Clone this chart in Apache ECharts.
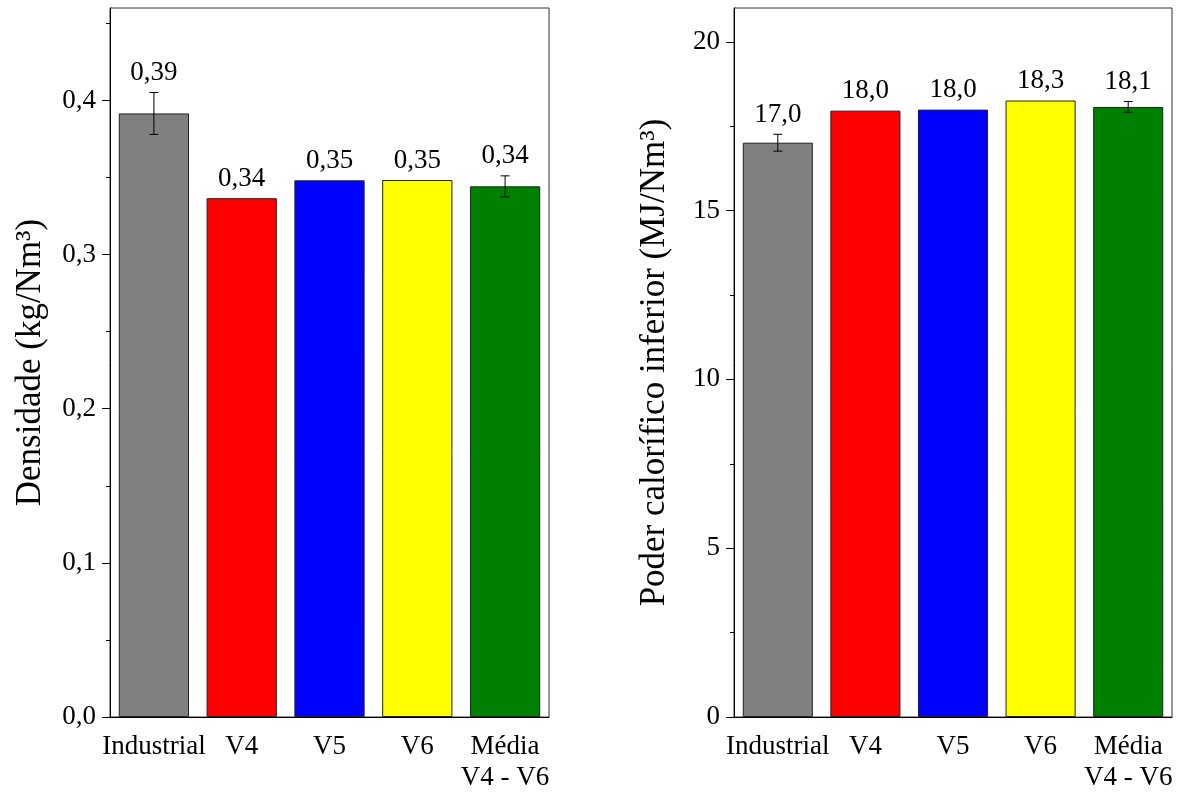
<!DOCTYPE html>
<html>
<head>
<meta charset="utf-8">
<script src="https://cdn.jsdelivr.net/npm/echarts@6/dist/echarts.min.js"></script>
<style>
  html, body { margin: 0; padding: 0; background: #fff; }
  #chart { width: 1182px; height: 793px; }
</style>
</head>
<body>
<div id="chart"></div>
<script>
// Categories shared by both panels
const categories = ['Industrial', 'V4', 'V5', 'V6', 'Média\nV4 - V6'];
const barColors = ['#808080', '#ff0000', '#0000ff', '#ffff00', '#008000'];

// Density (kg/Nm³) with standard deviation
const densityValues = [0.3916, 0.3366, 0.3482, 0.3484, 0.3443];
const densityErrors = [0.0136, 0, 0, 0, 0.0068];
const densityMajorTicks = [0, 0.1, 0.2, 0.3, 0.4];
const densityMinorTicks = [0.05, 0.15, 0.25, 0.35, 0.45];

// Lower heating value (MJ/Nm³) with standard deviation
const lhvValues = [17.01, 17.96, 17.99, 18.26, 18.07];
const lhvErrors = [0.25, 0, 0, 0, 0.16];
const lhvMajorTicks = [0, 5, 10, 15, 20];
const lhvMinorTicks = [2.5, 7.5, 12.5, 17.5];

const FONT = 'Liberation Serif';

function fmtComma(v, digits) {
  return v.toFixed(digits).replace('.', ',');
}

function errorBarSeries(xIdx, yIdx, values, errors, digits) {
  return {
    type: 'custom',
    xAxisIndex: xIdx,
    yAxisIndex: yIdx,
    clip: false,
    z: 5,
    data: values.map((v, i) => [i, v, errors[i]]),
    renderItem(params, api) {
      const i = api.value(0), v = api.value(1), e = api.value(2);
      const top = api.coord([i, v + e]);
      const bot = api.coord([i, v - e]);
      const children = [];
      const style = { stroke: '#000', lineWidth: 1 };
      if (e > 0) {
        const cap = 4.5;
        children.push({ type: 'line', shape: { x1: top[0], y1: top[1], x2: bot[0], y2: bot[1] }, style });
        children.push({ type: 'line', shape: { x1: top[0] - cap, y1: top[1], x2: top[0] + cap, y2: top[1] }, style });
        children.push({ type: 'line', shape: { x1: bot[0] - cap, y1: bot[1], x2: bot[0] + cap, y2: bot[1] }, style });
      }
      children.push({
        type: 'text',
        x: top[0],
        y: top[1] - 6,
        style: {
          text: fmtComma(v, digits),
          fontFamily: FONT,
          fontSize: 27,
          fill: '#000',
          align: 'center',
          verticalAlign: 'bottom'
        }
      });
      return { type: 'group', children };
    }
  };
}

function xAxisFor(gridIndex) {
  return {
    type: 'category',
    gridIndex,
    data: categories,
    axisLine: { lineStyle: { color: '#000', width: 1 } },
    axisTick: { alignWithLabel: true, length: 8, lineStyle: { color: '#000' } },
    axisLabel: {
      color: '#000', fontFamily: FONT, fontSize: 27, margin: 14,
      lineHeight: 31, interval: 0
    },
    splitLine: { show: false }
  };
}

function yAxesFor(gridIndex, max, majors, minors, digits, title) {
  return [
    {
      type: 'value',
      gridIndex,
      min: 0,
      max,
      position: 'left',
      name: title,
      nameLocation: 'middle',
      nameGap: 62,
      nameTextStyle: { color: '#000', fontFamily: FONT, fontSize: 35 },
      axisLine: { show: true, lineStyle: { color: '#000', width: 1 } },
      axisTick: { show: true, length: 8, customValues: majors, lineStyle: { color: '#000' } },
      axisLabel: {
        color: '#000', fontFamily: FONT, fontSize: 27, margin: 14,
        customValues: majors,
        formatter: v => fmtComma(v, digits)
      },
      splitLine: { show: false }
    },
    {
      type: 'value',
      gridIndex,
      min: 0,
      max,
      position: 'left',
      axisLine: { show: false },
      axisTick: { show: true, length: 4, customValues: minors, lineStyle: { color: '#000' } },
      axisLabel: { show: false },
      splitLine: { show: false }
    }
  ];
}

const chart = echarts.init(document.getElementById('chart'), null, { renderer: 'canvas' });

const frame = { show: true, borderColor: '#333', borderWidth: 1, backgroundColor: 'transparent' };

chart.setOption({
  animation: false,
  backgroundColor: '#fff',
  grid: [
    Object.assign({ left: 110, right: 633, top: 8, bottom: 74 }, frame),
    Object.assign({ left: 734, right: 10, top: 8, bottom: 74 }, frame)
  ],
  xAxis: [xAxisFor(0), xAxisFor(1)],
  yAxis: [
    ...yAxesFor(0, 0.46, densityMajorTicks, densityMinorTicks, 1, 'Densidade (kg/Nm³)'),
    ...yAxesFor(1, 21, lhvMajorTicks, lhvMinorTicks, 0, 'Poder calorífico inferior (MJ/Nm³)')
  ],
  series: [
    {
      type: 'bar',
      xAxisIndex: 0,
      yAxisIndex: 0,
      barWidth: '80%',
      data: densityValues.map((v, i) => ({ value: v, itemStyle: { color: barColors[i] } })),
      itemStyle: { borderColor: '#222', borderWidth: 1 }
    },
    errorBarSeries(0, 0, densityValues, densityErrors, 2),
    {
      type: 'bar',
      xAxisIndex: 1,
      yAxisIndex: 2,
      barWidth: '80%',
      data: lhvValues.map((v, i) => ({ value: v, itemStyle: { color: barColors[i] } })),
      itemStyle: { borderColor: '#222', borderWidth: 1 }
    },
    errorBarSeries(1, 2, lhvValues, lhvErrors, 1)
  ]
});
</script>
</body>
</html>
